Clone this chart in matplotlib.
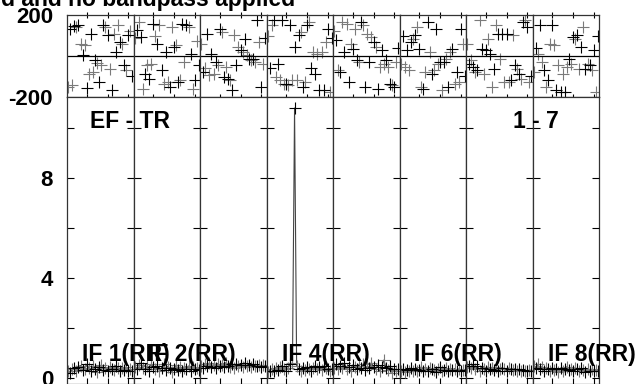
import numpy as np
import matplotlib.pyplot as plt

plt.rcParams['font.family'] = ['Liberation Sans', 'DejaVu Sans']
plt.rcParams['font.weight'] = 'bold'

# channels per IF
chan = np.arange(1, 33)

# phase (deg) per IF
phase_if1 = [-150, 130, -143, 147, 142, 150, 60, 3, 52, -156, -86, 109, -78, -21, -33, -127,
             -46, 150, 142, 101, -62, -168, 109, 20, 150, 68, 60, -46, -70, 101, 120, -100]
phase_if2 = [90, 125, 166, 93, -160, -86, -46, -111, -37, 158, 100, 60, 150, -70, -135, 20,
             -127, -152, 142, 44, 52, -127, -119, 158, -29, 150, 142, 11, -160, -119, 75, -45]
phase_if3 = [60, -78, -60, 109, -95, 11, -86, -29, -46, 134, 117, -103, -54, -111, -119, -168,
             101, -46, 44, 28, 20, 85, 3, -13, -21, -13, -29, 175, 68, -152, -40, 90]
phase_if4 = [100, -60, 150, 174, -103, -37, -119, 174, -135, -135, -143, 150, -119, 44, -119, 101,
             117, -150, -127, 150, 166, -60, 20, -86, 11, -168, 20, -168, 68, 134, -176, 90]
phase_if5 = [120, 80, -70, -78, 166, 20, 158, -127, 60, 36, 134, -21, -29, 166, 150, -152,
             109, -29, 93, 68, 44, -160, -54, 28, -37, -21, -54, -135, -143, -152, -29, 40]
phase_if6 = [-40, 100, -54, 28, -70, 68, 85, 101, 142, 36, -152, -160, -78, 166, 20, -86,
             -70, 134, -37, -29, -168, -29, -13, -152, 20, 36, -135, -78, -127, 134, 60, -100]
phase_if7 = [60, -37, -20, -54, -78, -70, 174, 36, -86, 28, 85, 11, -152, -62, 150, 109,
             -13, 109, -127, 109, -127, -119, 101, -46, -62, -90, -111, 166, 174, 142, -127, -100]
phase_if8 = [-80, 40, 11, 150, -29, -70, -152, -119, 60, 150, 52, -168, -46, -176, -86, -176,
             -54, -13, -37, 93, 85, 101, -62, 44, 142, -62, -37, -46, -70, 28, -176, 100]

# amplitude per IF
amp_if1 = [0.30, 0.22, 0.35, 0.40, 0.28, 0.45, 0.50, 0.32, 0.38, 0.55, 0.42, 0.30, 0.48, 0.36, 0.25, 0.44,
           0.52, 0.33, 0.40, 0.29, 0.46, 0.37, 0.31, 0.50, 0.42, 0.27, 0.39, 0.34, 0.45, 0.30, 0.36, 0.28]
amp_if2 = [0.45, 0.38, 0.52, 0.60, 0.41, 0.35, 0.48, 0.30, 0.55, 0.44, 0.37, 0.50, 0.28, 0.42, 0.58, 0.33,
           0.46, 0.40, 0.25, 0.38, 0.52, 0.34, 0.45, 0.30, 0.41, 0.36, 0.48, 0.29, 0.43, 0.35, 0.40, 0.32]
amp_if3 = [0.50, 0.42, 0.55, 0.48, 0.60, 0.45, 0.52, 0.40, 0.58, 0.47, 0.53, 0.44, 0.62, 0.50, 0.46, 0.55,
           0.41, 0.57, 0.49, 0.53, 0.45, 0.60, 0.48, 0.52, 0.43, 0.56, 0.50, 0.47, 0.54, 0.45, 0.51, 0.48]
amp_if4 = [0.25, 0.30, 0.35, 0.28, 0.40, 0.33, 0.45, 0.50, 0.38, 0.30, 0.42, 0.55, 0.60, 10.8, 0.50, 0.35,
           0.28, 0.40, 0.32, 0.45, 0.38, 0.30, 0.42, 0.50, 0.36, 0.44, 0.33, 0.48, 0.40, 0.35, 0.30, 0.38]
amp_if5 = [0.40, 0.55, 0.35, 0.48, 0.42, 0.60, 0.38, 0.45, 0.30, 0.52, 0.44, 0.36, 0.50, 0.41, 0.56, 0.33,
           0.47, 0.39, 0.62, 0.43, 0.35, 0.51, 0.28, 0.45, 0.72, 0.40, 0.34, 0.49, 0.20, 0.38, 0.30, 0.35]
amp_if6 = [0.30, 0.35, 0.25, 0.32, 0.28, 0.40, 0.30, 0.36, 0.27, 0.33, 0.45, 0.30, 0.38, 0.28, 0.42, 0.35,
           0.31, 0.26, 0.37, 0.43, 0.30, 0.34, 0.40, 0.28, 0.35, 0.32, 0.38, 0.30, 0.36, 0.29, 0.33, 0.31]
amp_if7 = [0.45, 0.50, 0.40, 0.55, 0.35, 0.48, 0.30, 0.42, 0.38, 0.28, 0.44, 0.36, 0.40, 0.33, 0.46, 0.30,
           0.38, 0.42, 0.35, 0.29, 0.40, 0.36, 0.32, 0.38, 0.30, 0.35, 0.28, 0.33, 0.30, 0.27, 0.32, 0.30]
amp_if8 = [0.50, 0.42, 0.55, 0.38, 0.45, 0.30, 0.40, 0.35, 0.28, 0.42, 0.33, 0.37, 0.25, 0.40, 0.30, 0.35,
           0.45, 0.32, 0.38, 0.28, 0.42, 0.36, 0.30, 0.40, 0.33, 0.25, 0.38, 0.30, 0.35, 0.28, 0.32, 0.30]

phases = [phase_if1, phase_if2, phase_if3, phase_if4, phase_if5, phase_if6, phase_if7, phase_if8]
amps = [amp_if1, amp_if2, amp_if3, amp_if4, amp_if5, amp_if6, amp_if7, amp_if8]
if_labels = ['IF 1(RR)', 'IF 2(RR)', '', 'IF 4(RR)', '', 'IF 6(RR)', '', 'IF 8(RR)']

W, H = 638.0, 384.0
fig = plt.figure(figsize=(W / 100, H / 100), dpi=100)

x0, x1 = 67.0, 599.0
pw = (x1 - x0) / 8
ph_top, ph_bot = 15.0, 97.0
amp_bot = 384.0

black = '#000000'
gray = '#7a7a7a'
ms = 9
lw = 0.8

for i in range(8):
    left = (x0 + i * pw) / W
    axp = fig.add_axes([left, 1 - ph_bot / H, pw / W, (ph_bot - ph_top) / H])
    axa = fig.add_axes([left, 1 - amp_bot / H, pw / W, (amp_bot - ph_bot) / H])

    ph = np.array(phases[i], dtype=float)
    am = np.array(amps[i], dtype=float)
    odd = chan % 2 == 1

    axp.plot(chan[odd], ph[odd], '+', color=gray, ms=ms, mew=lw)
    axp.plot(chan[~odd], ph[~odd], '+', color=black, ms=ms, mew=lw)
    axp.axhline(0, color='black', lw=0.9)
    axp.set_xlim(0.5, 32.5)
    axp.set_ylim(-200, 200)

    axa.plot(chan, am, '-', color='#444444', lw=lw)
    axa.plot(chan[odd], am[odd], '+', color=gray, ms=ms, mew=lw)
    axa.plot(chan[~odd], am[~odd], '+', color=black, ms=ms, mew=lw)
    axa.set_xlim(0.5, 32.5)
    axa.set_ylim(-0.24, 11.24)

    for ax in (axp, axa):
        for s in ax.spines.values():
            s.set_linewidth(0.9)
            s.set_color('#333333')
        ax.set_xticks([10, 20, 30])
        ax.set_xticklabels([])

    axp.tick_params(axis='x', which='both', bottom=True, top=True, direction='inout', length=5, width=0.8)
    axp.tick_params(axis='y', left=False, right=False)
    axa.tick_params(axis='x', bottom=True, top=False, direction='in', length=4, width=0.8)

    axa.set_yticks([0, 4, 8])
    axa.set_yticks([2, 6, 10], minor=True)
    if i == 0:
        axp.set_yticks([-200, 200])
        axp.set_yticklabels(['-200', '200'], fontsize=16, fontweight='bold')
        axp.tick_params(axis='y', left=True, length=0, pad=10)
        axa.set_yticklabels(['0', '4', '8'], fontsize=16, fontweight='bold')
        axa.tick_params(axis='y', which='both', left=True, right=False, direction='in',
                        length=5, width=0.8, pad=10)
    else:
        axp.set_yticks([])
        axa.set_yticklabels([])
        axa.tick_params(axis='y', which='both', left=True, right=False,
                        direction='inout', length=10, width=0.8)

    if i == 7:
        # outer right edge: ticks pointing inward only
        axr = axa.twinx()
        axr.set_ylim(axa.get_ylim())
        axr.set_yticks([0, 4, 8])
        axr.set_yticks([2, 6, 10], minor=True)
        axr.set_yticklabels([])
        axr.tick_params(axis='y', which='both', right=True, direction='in', length=5, width=0.8)
        for s in axr.spines.values():
            s.set_visible(False)

    if if_labels[i]:
        fig.text((x0 + i * pw + 15.0) / W, 1 - 355.0 / H, if_labels[i],
                 fontsize=16.5, fontweight='bold', ha='left', va='center', zorder=10)

fig.text(90 / W, 1 - 122 / H, 'EF - TR', fontsize=16.5, fontweight='bold', ha='left', va='center')
fig.text(513 / W, 1 - 122 / H, '1 - 7', fontsize=16.5, fontweight='bold', ha='left', va='center')
fig.text(295 / W, 1 - 6 / H, 'Cal. table 1 applied and no bandpass applied',
         fontsize=16.5, fontweight='bold', ha='right', va='baseline')

fig.savefig('out.png', dpi=100)
